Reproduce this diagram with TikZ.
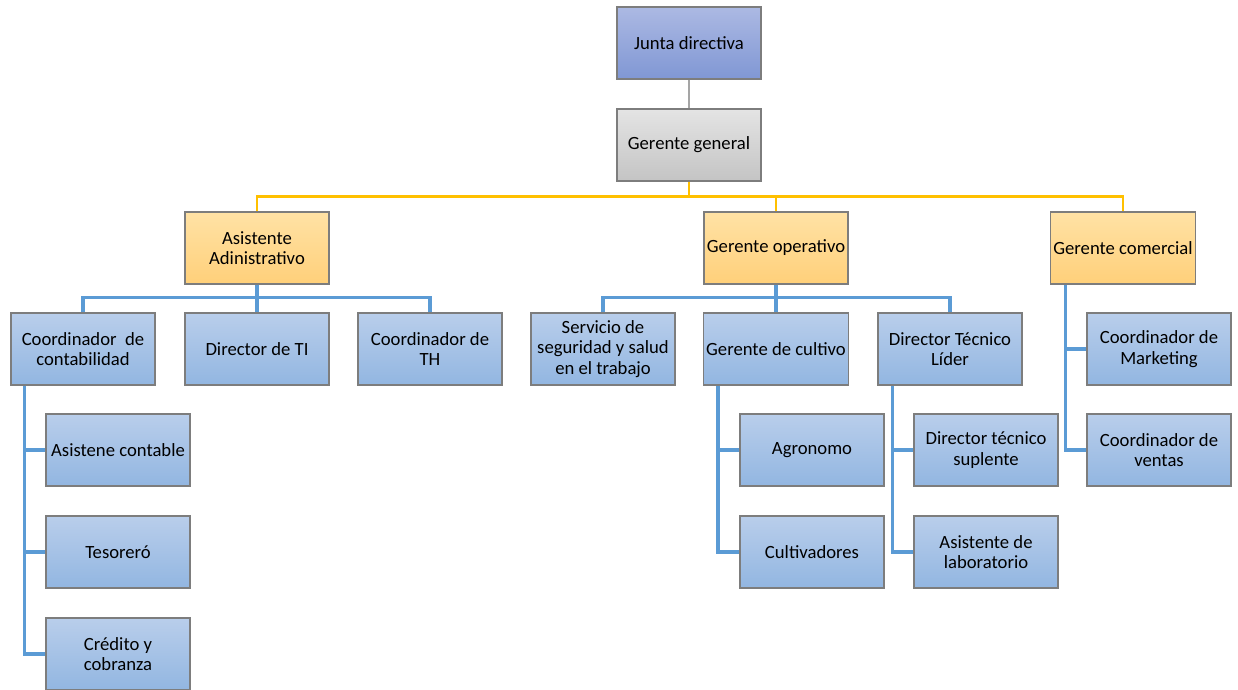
\documentclass[tikz,border=0pt]{standalone}
\usepackage{fontspec}
\setmainfont{Carlito}
\definecolor{boxline}{RGB}{125,125,125}
\definecolor{blueTop}{RGB}{185,206,235}
\definecolor{blueBot}{RGB}{146,182,225}
\definecolor{orangeTop}{RGB}{255,226,165}
\definecolor{orangeBot}{RGB}{255,208,122}
\definecolor{juntaTop}{RGB}{172,185,227}
\definecolor{juntaBot}{RGB}{128,151,212}
\definecolor{greyTop}{RGB}{228,228,228}
\definecolor{greyBot}{RGB}{196,196,196}
\definecolor{lineBlue}{RGB}{91,155,213}
\definecolor{lineGold}{RGB}{255,192,0}
\definecolor{lineGrey}{RGB}{165,165,165}
\begin{document}
\begin{tikzpicture}[
        x=0.75pt, y=-0.75pt,
        cargo/.style={rectangle, draw=boxline, line width=0.8pt, minimum width=108pt, minimum height=54pt, inner sep=2pt, align=center, font=\fontsize{14}{15.4}\selectfont, shading=axis, top color=blueTop, bottom color=blueBot},
        jefe/.style={cargo, top color=orangeTop, bottom color=orangeBot},
        junta/.style={cargo, top color=juntaTop, bottom color=juntaBot},
        general/.style={cargo, top color=greyTop, bottom color=greyBot},
        azul/.style={draw=lineBlue, line width=2.3pt},
        oro/.style={draw=lineGold, line width=2pt},
        gris/.style={draw=lineGrey, line width=1.8pt}
    ]
    \useasboundingbox (0,0) rectangle (1238,689);
    % nivel superior
    \node[junta] (junta) at (689,43) {Junta directiva};
    \node[general] (gerente) at (689,145) {Gerente general};
    \node[jefe] (asisadm) at (257,248) {Asistente\\Adinistrativo};
    \node[jefe] (operativo) at (776,248) {Gerente operativo};
    \node[jefe] (comercial) at (1123,248) {Gerente comercial};
    % area administrativa
    \node[cargo] (contab) at (83,349) {Coordinador~ de\\contabilidad};
    \node[cargo] (dirti) at (257,349) {Director de TI};
    \node[cargo] (coordth) at (430,349) {Coordinador de\\TH};
    \node[cargo] (asiscont) at (118,450) {Asistene contable};
    \node[cargo] (tesorero) at (118,552) {Tesoreró};
    \node[cargo] (credito) at (118,654) {Crédito y\\cobranza};
    % area operativa
    \node[cargo] (sst) at (603,349) {Servicio de\\seguridad y salud\\en el trabajo};
    \node[cargo] (cultivo) at (776,349) {Gerente de cultivo};
    \node[cargo] (dirtec) at (950,349) {Director Técnico\\Líder};
    \node[cargo] (agronomo) at (812,450) {Agronomo};
    \node[cargo] (cultivadores) at (812,552) {Cultivadores};
    \node[cargo] (suplente) at (986,450) {Director técnico\\suplente};
    \node[cargo] (laboratorio) at (986,552) {Asistente de\\laboratorio};
    % area comercial
    \node[cargo] (marketing) at (1159,349) {Coordinador de\\Marketing};
    \node[cargo] (ventas) at (1159,450) {Coordinador de\\ventas};

    \draw[gris] (junta) -- (gerente);
    \foreach \hijo in {asisadm, operativo, comercial}
        \draw[oro] (gerente.south) -- ++(0,15) -| (\hijo.north);
    \foreach \hijo in {contab, dirti, coordth}
        \draw[azul] (asisadm.south) -- ++(0,13) -| (\hijo.north);
    \foreach \hijo in {sst, cultivo, dirtec}
        \draw[azul] (operativo.south) -- ++(0,13) -| (\hijo.north);
    \foreach \hijo in {asiscont, tesorero, credito}
        \draw[azul] ([xshift=10.5pt]contab.south west) |- (\hijo.west);
    \foreach \hijo in {agronomo, cultivadores}
        \draw[azul] ([xshift=11.25pt]cultivo.south west) |- (\hijo.west);
    \foreach \hijo in {suplente, laboratorio}
        \draw[azul] ([xshift=11.25pt]dirtec.south west) |- (\hijo.west);
    \foreach \hijo in {marketing, ventas}
        \draw[azul] ([xshift=11.25pt]comercial.south west) |- (\hijo.west);
\end{tikzpicture}
\end{document}
